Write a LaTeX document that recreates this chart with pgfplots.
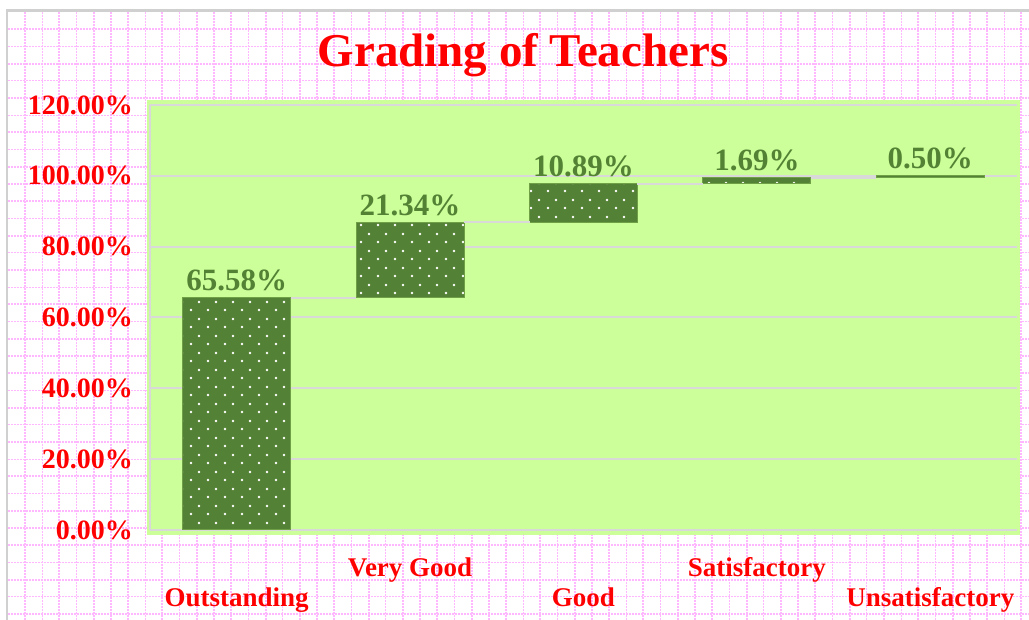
\documentclass[border=0pt]{standalone}
\usepackage{fontspec}
\setmainfont{Liberation Serif}
\usepackage{pgfplots}
\pgfplotsset{compat=1.18}
\usetikzlibrary{patterns}
\definecolor{plotgreen}{HTML}{CCFF99}
\definecolor{bargreen}{HTML}{538135}
\definecolor{baredge}{HTML}{6FA046}
\definecolor{lblgreen}{HTML}{548235}
\definecolor{gridgray}{HTML}{D9D9D9}
\definecolor{bordergray}{HTML}{D0D0D0}
\definecolor{pinkgrid}{HTML}{FFB8FF}
\pgfdeclarepatternformonly{wdots}{\pgfqpoint{0pt}{0pt}}{\pgfqpoint{8.5pt}{8.5pt}}{\pgfqpoint{8.5pt}{8.5pt}}{%
  \pgfpathcircle{\pgfqpoint{2.1pt}{2.1pt}}{0.7pt}%
  \pgfpathcircle{\pgfqpoint{6.35pt}{6.35pt}}{0.7pt}%
  \pgfusepath{fill}}
\pgfplotsset{waterfall/.style={width=433.5pt, height=212.5pt, scale only axis,
  xmin=-0.5, xmax=4.5, ymin=0, ymax=120, at={(0,0)}, anchor=south west}}

\begin{document}
\begin{tikzpicture}
\useasboundingbox (-75pt,-45pt) rectangle (439.5pt,265pt);
\fill[white] (-75pt,-45pt) rectangle (439.5pt,265pt);
% pink dotted grid of the chart area
\foreach \k in {0,...,58}{
  \pgfmathsetmacro\w{mod(\k,2)==0 ? 1.0 : 0.65}
  \draw[pinkgrid, line width=\w pt, dash pattern=on 0.8pt off 0.7pt]
    ({(-62.5+8.59*\k)*1pt},-45pt) -- ({(-62.5+8.59*\k)*1pt},259pt);
}
\foreach \k in {1,...,35}{
  \pgfmathsetmacro\w{mod(\k,2)==1 ? 1.0 : 0.65}
  \draw[pinkgrid, line width=\w pt, dash pattern=on 0.8pt off 0.7pt]
    (-71pt,{(259-8.6*\k)*1pt}) -- (439.5pt,{(259-8.6*\k)*1pt});
}
\draw[bordergray, line width=1.2pt] (-71.5pt,-45pt) -- (-71.5pt,259.75pt) -- (439.5pt,259.75pt);
\fill[plotgreen] (-1.5pt,-2.5pt) rectangle (435pt,215pt);

\begin{axis}[waterfall, ybar stacked, bar width=54pt,
  axis lines*=left, axis line style={draw=gridgray, line width=1pt, -},
  ymajorgrids, grid style={draw=gridgray, line width=1pt},
  major tick length=0pt,
  ytick={0,20,...,120},
  /pgf/number format/assume math mode=true,
  yticklabel={\pgfmathprintnumber[fixed,fixed zerofill,precision=2]{\tick}\%},
  yticklabel style={font=\fontsize{14}{14}\selectfont\bfseries, text=red, xshift=-5pt},
  xtick={0,2,4}, xticklabels={Outstanding,Good,Unsatisfactory},
  xticklabel style={font=\fontsize{13.5}{13.5}\selectfont\bfseries, text=red, anchor=base, yshift=-38.5pt},
  extra x ticks={1,3}, extra x tick labels={Very Good,Satisfactory},
  extra x tick style={xticklabel style={yshift=15pt}}]
\addplot[draw=none, fill=none, forget plot] coordinates {(0,0) (1,65.58) (2,86.92) (3,97.81) (4,99.50)};
\addplot[fill=bargreen, draw=baredge, line width=0.5pt,
  postaction={pattern=wdots, pattern color=white}]
  coordinates {(0,65.58) (1,21.34) (2,10.89) (3,1.69) (4,0.50)};
\end{axis}

\begin{axis}[waterfall, axis lines=none, ticks=none, clip=false,
  /pgf/number format/assume math mode=true]
% connectors between the bars
\addplot[gridgray, line width=1pt] coordinates {(0.311,65.58) (0.689,65.58)};
\addplot[gridgray, line width=1pt] coordinates {(1.311,86.92) (1.689,86.92)};
\addplot[gridgray, line width=1pt] coordinates {(2.311,97.81) (2.689,97.81)};
\addplot[gridgray, line width=1pt] coordinates {(3.311,99.50) (3.689,99.50)};
% value labels at the top of each step
\addplot[draw=none, mark=none, point meta=explicit,
  nodes near coords={\pgfmathprintnumber[fixed,fixed zerofill,precision=2,assume math mode=true]{\pgfplotspointmeta}\%},
  nodes near coords style={font=\fontsize{15.5}{15.5}\selectfont\bfseries, text=lblgreen, anchor=base, yshift=3.5pt, inner sep=0pt}]
  coordinates {(0,65.58) [65.58] (1,86.92) [21.34] (2,97.81) [10.89] (3,99.50) [1.69] (4,100.00) [0.50]};
\end{axis}

\node[font=\fontsize{23.5}{23.5}\selectfont\bfseries, text=red, anchor=base] at (186.5pt,231.5pt) {Grading of Teachers};
\end{tikzpicture}
\end{document}
